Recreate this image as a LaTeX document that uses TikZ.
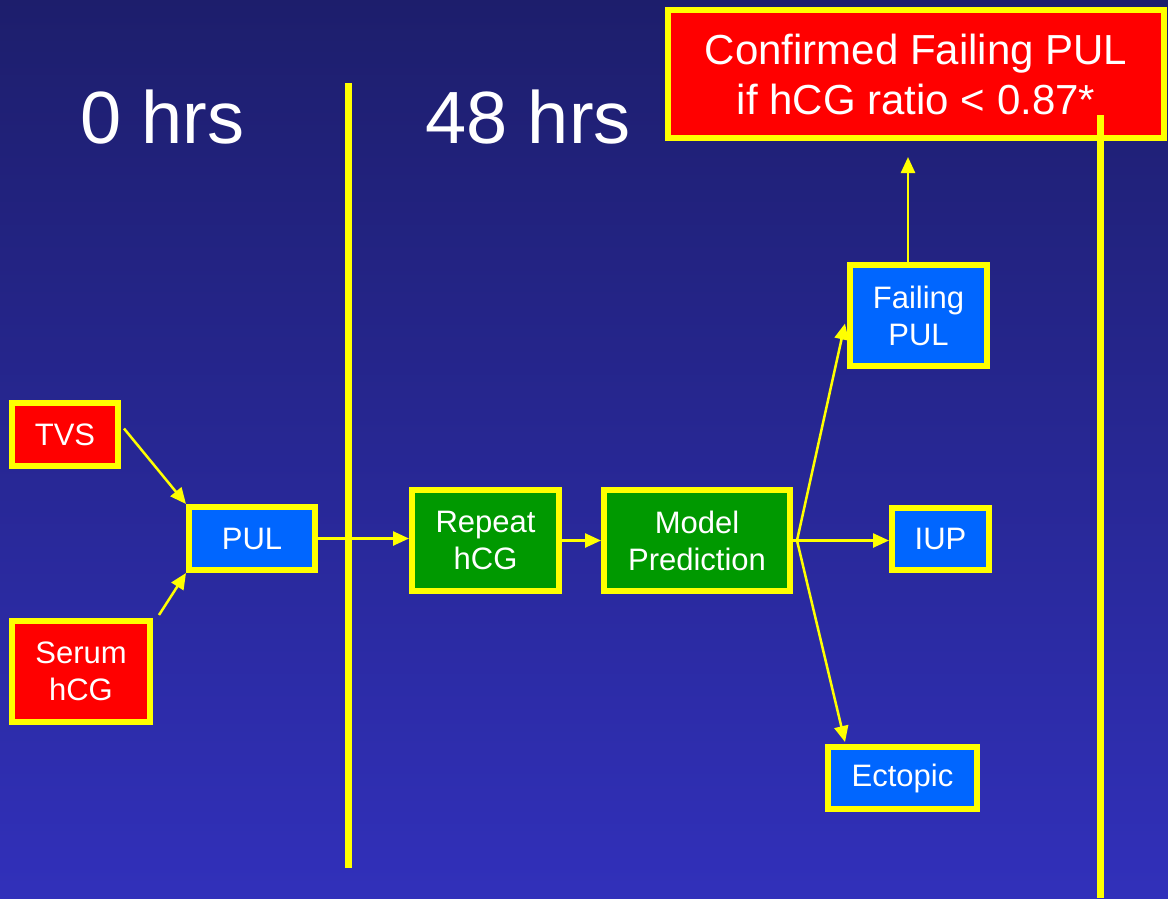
\documentclass[tikz,border=0pt]{standalone}
\usepackage{fontspec}
\setmainfont{Liberation Sans}
\usetikzlibrary{arrows.meta,calc}
\definecolor{bgtop}{RGB}{29,30,108}
\definecolor{bgbot}{RGB}{49,48,186}
\definecolor{boxred}{RGB}{255,0,0}
\definecolor{boxblue}{RGB}{0,102,255}
\definecolor{boxgreen}{RGB}{0,153,0}
\definecolor{ylw}{RGB}{255,255,0}
\tikzset{
  box/.style={draw=ylw, line width=6pt, inner sep=0pt, align=center, text=white,
    font=\fontsize{31}{37}\selectfont},
  redbox/.style={box, fill=boxred},
  bluebox/.style={box, fill=boxblue},
  greenbox/.style={box, fill=boxgreen},
  conn/.style={draw=ylw, line width=2.5pt, -{Triangle[length=16pt,width=14pt]}},
  divider/.style={draw=ylw, line width=7pt},
  header/.style={text=white, inner sep=0pt, anchor=base west, font=\fontsize{74}{80}\selectfont}
}
\begin{document}
\begin{tikzpicture}[x=1pt,y=-1pt]
\useasboundingbox (0,0) rectangle (1168,898);
\shade[top color=bgtop, bottom color=bgbot] (0,0) rectangle (1168,898);

% headers
\node[header] (h0) at (80,143) {0 hrs};
\node[header] (h48) at (425,143) {48 hrs};

% nodes
\node[redbox, minimum width=496pt, minimum height=128pt, font=\fontsize{42}{50}\selectfont] (conf) at (916,74) {Confirmed Failing PUL\\if hCG ratio < 0.87*};
\node[redbox, minimum width=106pt, minimum height=63pt] (tvs) at (65,434.5) {TVS};
\node[bluebox, minimum width=126pt, minimum height=63pt] (pul) at (252,538.5) {PUL};
\node[redbox, minimum width=138pt, minimum height=101pt] (serum) at (81,671.5) {Serum\\hCG};
\node[greenbox, minimum width=147pt, minimum height=101pt] (rep) at (485.5,540.5) {Repeat\\hCG};
\node[greenbox, minimum width=186pt, minimum height=101pt] (model) at (697,540.5) {Model\\Prediction};
\node[bluebox, minimum width=137pt, minimum height=101pt] (fail) at (918.5,315.5) {Failing\\PUL};
\node[bluebox, minimum width=97pt, minimum height=62pt] (iup) at (940.5,539) {IUP};
\node[bluebox, minimum width=149pt, minimum height=62pt] (ect) at (902.5,778) {Ectopic};

\coordinate (split) at ($(model.east)+(4,0)$);

% connectors
\draw[conn] ($(tvs.east)+(3,-6)$) -- (pul.north west);
\draw[conn] ($(serum.north east)+(6,-3)$) -- (pul.south west);
\draw[conn] (pul.east) -- (pul.east -| rep.west);
\draw[conn] (rep.east) -- (model.west);
\draw[draw=ylw, line width=2.5pt] (model.east) -- (split);
\draw[conn] (split) -- ($(fail.west)+(-2,8)$);
\draw[conn] (split) -- (split -| iup.west);
\draw[conn] (split) -- ($(ect.north west)+(20,-2)$);
\draw[conn] ($(fail.north)+(-10.5,0)$) -- ($(conf.south)+(-8,16)$);

% dividers
\draw[divider] (348,83) -- (348,868);
\draw[divider] (1100,115) -- (1100,898);
\end{tikzpicture}
\end{document}
